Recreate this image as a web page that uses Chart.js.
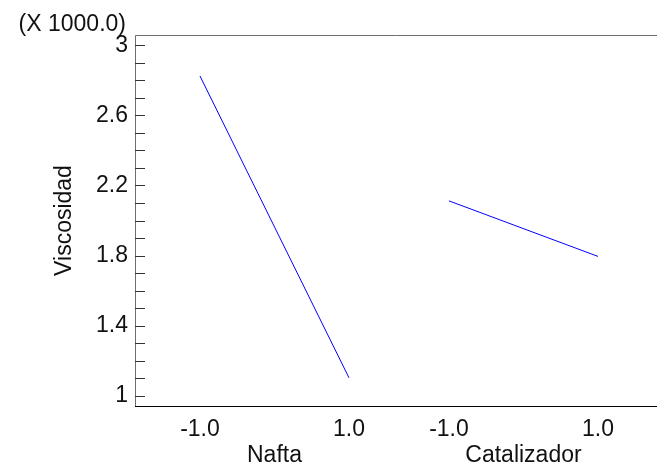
<!DOCTYPE html>
<html>
<head>
<meta charset="utf-8">
<script src="https://cdn.jsdelivr.net/npm/chart.js@4.4.1/dist/chart.umd.min.js"></script>
<style>
  html, body { margin: 0; padding: 0; background: #fff; }
  #wrap { width: 657px; height: 467px; position: relative; }
</style>
</head>
<body>
<div id="wrap"><canvas id="main-effects"></canvas></div>
<script>
const factorNames = ['Nafta', 'Catalizador'];
const levels = [-1.0, 1.0];
const naftaMeans = [2825, 1102];
const catalizadorMeans = [2112, 1795];
const yTickValues = [1000, 1100, 1200, 1300, 1400, 1500, 1600, 1700, 1800, 1900, 2000,
                     2100, 2200, 2300, 2400, 2500, 2600, 2700, 2800, 2900, 3000];
const yLabelValues = [1000, 1400, 1800, 2200, 2600, 3000];
const yMultiplier = 1000.0;

// distance between the centre of one factor and the next, in level units
const FACTOR_STEP = 3.342;
const FONT = '"Liberation Sans", Arial, sans-serif';
const FONT_SIZE = 23;

function factorPoints(means, f) {
    return levels.map((lv, i) => ({ x: f * FACTOR_STEP + lv, y: means[i] }));
}

const xTicks = [];
factorNames.forEach((_, f) => levels.forEach(lv => xTicks.push(f * FACTOR_STEP + lv)));

const frame = {
    id: 'frame',
    afterDraw(chart) {
        const { ctx, chartArea } = chart;
        const { left, right, top, bottom } = chartArea;
        const yScale = chart.scales.y;
        const xScale = chart.scales.x;
        ctx.save();

        // plot border
        ctx.lineWidth = 1;
        ctx.strokeStyle = '#6e6e6e';
        ctx.beginPath();
        ctx.moveTo(left + 0.5, bottom);
        ctx.lineTo(left + 0.5, top + 0.5);
        ctx.lineTo(right, top + 0.5);
        ctx.stroke();
        ctx.strokeStyle = '#000';
        ctx.beginPath();
        ctx.moveTo(left, bottom + 0.5);
        ctx.lineTo(right, bottom + 0.5);
        ctx.stroke();

        // inward tick marks
        ctx.strokeStyle = '#333';
        yTickValues.forEach(v => {
            const py = Math.round(yScale.getPixelForValue(v)) + 0.5;
            ctx.beginPath();
            ctx.moveTo(left, py);
            ctx.lineTo(left + 10, py);
            ctx.stroke();
        });

        ctx.fillStyle = '#111';
        ctx.font = `${FONT_SIZE}px ${FONT}`;

        // factor names under the level labels
        ctx.textAlign = 'center';
        ctx.textBaseline = 'middle';
        factorNames.forEach((name, f) => {
            ctx.fillText(name, xScale.getPixelForValue(f * FACTOR_STEP), bottom + 50);
        });

        // multiplier note
        ctx.textAlign = 'right';
        ctx.fillText(`(X ${yMultiplier.toFixed(1)})`, left - 9, top - 10);

        // y axis title
        ctx.translate(65, (top + bottom) / 2);
        ctx.rotate(-Math.PI / 2);
        ctx.textAlign = 'center';
        ctx.fillText('Viscosidad', 0, 0);
        ctx.restore();
    }
};

const ctx = document.getElementById('main-effects').getContext('2d');
new Chart(ctx, {
    type: 'line',
    data: {
        datasets: [
            { label: factorNames[0], data: factorPoints(naftaMeans, 0) },
            { label: factorNames[1], data: factorPoints(catalizadorMeans, 1) }
        ].map(d => Object.assign(d, {
            borderColor: '#0000ff',
            borderWidth: 1,
            pointRadius: 0,
            tension: 0,
            fill: false
        }))
    },
    options: {
        responsive: true,
        maintainAspectRatio: false,
        animation: false,
        layout: { padding: { top: 35, right: 0, left: 0, bottom: 0 } },
        plugins: { legend: { display: false }, tooltip: { enabled: false } },
        scales: {
            x: {
                type: 'linear',
                min: -1.872,
                max: 5.134,
                afterBuildTicks: scale => { scale.ticks = xTicks.map(v => ({ value: v })); },
                afterFit: scale => { scale.height = 61; },
                ticks: {
                    autoSkip: false,
                    maxRotation: 0,
                    padding: 10,
                    color: '#111',
                    font: { family: FONT, size: FONT_SIZE },
                    callback: (v, i) => levels[i % levels.length].toFixed(1)
                },
                grid: { display: false, drawTicks: false },
                border: { display: false }
            },
            y: {
                type: 'linear',
                min: 941,
                max: 3059,
                afterBuildTicks: scale => { scale.ticks = yTickValues.map(v => ({ value: v })); },
                afterFit: scale => { scale.width = 135; },
                ticks: {
                    autoSkip: false,
                    padding: 7,
                    color: '#111',
                    font: { family: FONT, size: FONT_SIZE },
                    callback: v => yLabelValues.includes(v) ? String(v / yMultiplier) : ''
                },
                grid: { display: false, drawTicks: false },
                border: { display: false }
            }
        }
    },
    plugins: [frame]
});
</script>
</body>
</html>
